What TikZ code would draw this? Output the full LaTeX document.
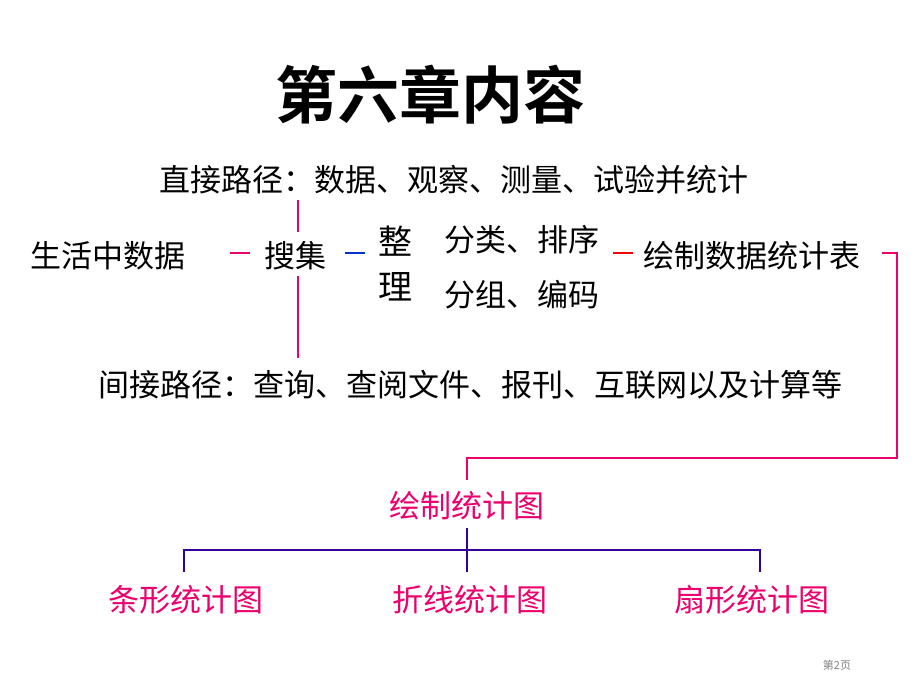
\documentclass[tikz,border=0pt]{standalone}
\usepackage{fontspec}
\newfontfamily\cjk{Noto Sans CJK SC}
\newfontfamily\cjkb{Noto Sans CJK SC Bold}
\definecolor{rosa}{RGB}{235,0,110}
\definecolor{blau}{RGB}{0,51,204}
\definecolor{dunkelblau}{RGB}{51,0,153}
\begin{document}
\begin{tikzpicture}[x=1pt,y=-1pt,line width=2.5pt,
	txt/.style={font=\cjk\fontsize{31}{34}\selectfont,inner sep=0pt},
	rtxt/.style={txt,text=rosa},
	verb/.style={draw=rosa}]

\useasboundingbox (0,0) rectangle (920,690);

\node[font=\cjkb\fontsize{62}{66}\selectfont,inner sep=0pt] (titel) at (430,95) {第六章内容};

\node[txt] (direkt) at (454,180) {直接路径：数据、观察、测量、试验并统计};
\node[txt] (leben) at (108,256) {生活中数据};
\node[txt] (sammeln) at (295,256) {搜集};
\node[txt,font=\cjk\fontsize{34}{36}\selectfont] (zheng) at (395,241) {整};
\node[txt,font=\cjk\fontsize{34}{36}\selectfont] (li) at (395,287) {理};
\node[txt] (klassen) at (522,240) {分类、排序};
\node[txt] (gruppen) at (522,295) {分组、编码};
\node[txt] (tabelle) at (752,256) {绘制数据统计表};
\node[txt] (indirekt) at (470,385) {间接路径：查询、查阅文件、报刊、互联网以及计算等};

\node[rtxt] (grafik) at (467,506) {绘制统计图};
\node[rtxt] (balken) at (186,600) {条形统计图};
\node[rtxt] (linien) at (470,600) {折线统计图};
\node[rtxt] (kreis) at (752,600) {扇形统计图};

\node[font=\cjk\fontsize{11}{12}\selectfont,text=gray] (seite) at (837,665) {第2页};

% Verbindungen oben
\draw[verb] (230,253) -- (250,253);
\draw[verb] (298,200) -- (298,232);
\draw[verb] (298,276) -- (298,358);
\draw[blau] (345,253) -- (365,253);
\draw[red] (613,253) -- (633,253);
\draw[verb] (882,253) -- (897,253) -- (897,458) -- (467,458) -- (467,480);

% Baum unten
\coordinate (knoten) at (467,550);
\draw[dunkelblau] (467,528) -- (knoten);
\draw[dunkelblau] (184,572) -- (184,550) -- (760,550) -- (760,572);
\draw[dunkelblau] (knoten) -- (467,572);

\end{tikzpicture}
\end{document}
